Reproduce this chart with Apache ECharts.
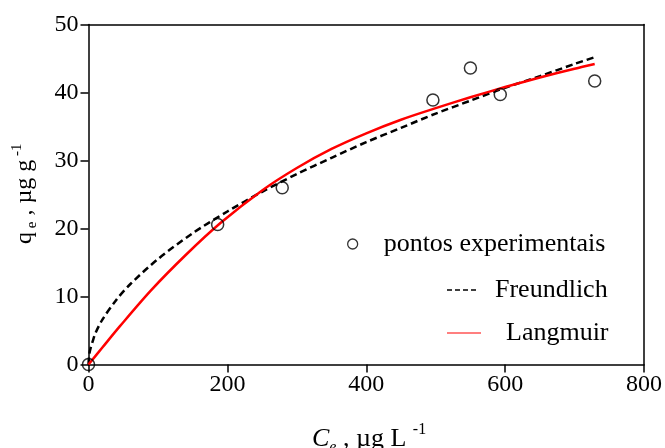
<!DOCTYPE html>
<html>
<head>
<meta charset="utf-8">
<script src="https://cdn.jsdelivr.net/npm/echarts@6/dist/echarts.min.js"></script>
<style>html,body{margin:0;padding:0;background:#fff}#c{width:665px;height:448px}</style>
</head>
<body>
<div id="c"></div>
<script>
// Experimental points (Ce, qe)
const expC = [0, 186, 279, 496, 550, 593, 729];
const expQ = [0, 20.6, 26.0, 38.9, 43.6, 39.7, 41.7];
// Freundlich fitted curve
const freC = [0, 1, 3, 6, 10, 20, 40, 60, 100, 150, 200, 250, 300, 350, 400, 450, 500, 550, 600, 650, 700, 729];
const freQ = [0, 1.4, 2.4, 3.4, 4.6, 6.6, 9.5, 11.8, 15.5, 19.3, 22.5, 25.4, 28.0, 30.4, 32.7, 34.8, 36.9, 38.8, 40.7, 42.4, 44.2, 45.2];
// Langmuir fitted curve
const lanC = [0, 20, 45, 90, 140, 190, 250, 300, 350, 400, 450, 500, 550, 600, 650, 700, 729];
const lanQ = [0, 2.5, 5.6, 10.9, 16.1, 20.8, 25.6, 28.9, 31.7, 34.0, 36.0, 37.7, 39.3, 40.8, 42.2, 43.5, 44.2];
// Axis ticks
const xTicks = [0, 200, 400, 600, 800];
const yTicks = [0, 10, 20, 30, 40, 50];
const names = ['pontos experimentais', 'Freundlich', 'Langmuir'];

const FONT = 'Liberation Serif';
const pairs = (a, b) => a.map((v, i) => [v, b[i]]);

const chart = echarts.init(document.getElementById('c'), null, {renderer: 'canvas'});
const axisBase = {
  axisLine: {show: true, onZero: false, lineStyle: {color: '#000', width: 1.5}},
  splitLine: {show: false}
};
const legendText = {fontFamily: FONT, fontSize: 26, color: '#000'};
chart.setOption({
  animation: false,
  backgroundColor: '#fff',
  grid: {left: 88.5, right: 20, top: 24.5, bottom: 83.5, containLabel: false},
  xAxis: [
    Object.assign({}, axisBase, {
      type: 'value', min: xTicks[0], max: xTicks[xTicks.length - 1], interval: xTicks[1] - xTicks[0],
      axisTick: {show: true, length: 8, inside: false, lineStyle: {color: '#000', width: 1.5}},
      axisLabel: {color: '#000', fontFamily: FONT, fontSize: 24, margin: 8}
    }),
    Object.assign({}, axisBase, {
      type: 'value', position: 'top', min: 0, max: 800,
      axisTick: {show: false}, axisLabel: {show: false}
    })
  ],
  yAxis: [
    Object.assign({}, axisBase, {
      type: 'value', min: yTicks[0], max: yTicks[yTicks.length - 1], interval: yTicks[1] - yTicks[0],
      axisTick: {show: true, length: 8, inside: false, lineStyle: {color: '#000', width: 1.5}},
      axisLabel: {color: '#000', fontFamily: FONT, fontSize: 24, margin: 10}
    }),
    Object.assign({}, axisBase, {
      type: 'value', position: 'right', min: 0, max: 50,
      axisTick: {show: false}, axisLabel: {show: false}
    })
  ],
  legend: [
    {data: [{name: names[0], icon: 'circle'}], left: 347, top: 231, padding: 0,
     itemWidth: 10, itemHeight: 10, textStyle: Object.assign({padding: [0, 0, 0, 21]}, legendText),
     itemStyle: {color: 'rgba(255,255,255,0)', borderColor: '#000', borderWidth: 1.3}},
    {data: [{name: names[1], icon: 'path://M0,0H5V1H0Z M8,0H13V1H8Z M16,0H21V1H16Z M24,0H29V1H24Z'}],
     left: 447, top: 277, padding: 0, itemWidth: 29, itemHeight: 1.4, symbolKeepAspect: false,
     textStyle: Object.assign({padding: [0, 0, 0, 14]}, legendText),
     itemStyle: {color: '#000', borderWidth: 0}},
    {data: [{name: names[2], icon: 'rect'}], left: 447, top: 320, padding: 0,
     itemWidth: 34, itemHeight: 1.2, symbolKeepAspect: false,
     textStyle: Object.assign({padding: [0, 0, 0, 20]}, legendText),
     itemStyle: {color: '#ff0000', borderWidth: 0}}
  ],
  series: [
    {
      name: names[1], type: 'line', data: pairs(freC, freQ), smooth: 0.3, showSymbol: false, symbol: 'none',
      lineStyle: {color: '#000', width: 2.5, type: [7, 4]}, itemStyle: {color: '#000'}, z: 3
    },
    {
      name: names[2], type: 'line', data: pairs(lanC, lanQ), smooth: 0.3, showSymbol: false, symbol: 'none',
      lineStyle: {color: '#ff0000', width: 2.5}, itemStyle: {color: '#ff0000'}, z: 4
    },
    {
      name: names[0], type: 'scatter', data: pairs(expC, expQ), symbol: 'circle', symbolSize: 12, clip: false,
      itemStyle: {color: 'rgba(255,255,255,0)', borderColor: '#000', borderWidth: 1.5}, z: 5
    }
  ],
  graphic: [
    {
      type: 'text', left: 312, top: 422, silent: true,
      style: {
        text: '{i|C}{s|e}{n| , µg L }{p|-1}',
        rich: {
          i: {fontFamily: FONT, fontSize: 26, fontStyle: 'italic', lineHeight: 34, fill: '#000'},
          s: {fontFamily: FONT, fontSize: 16, fontStyle: 'italic', verticalAlign: 'bottom', lineHeight: 16, fill: '#000'},
          n: {fontFamily: FONT, fontSize: 26, lineHeight: 34, fill: '#000'},
          p: {fontFamily: FONT, fontSize: 16, verticalAlign: 'top', lineHeight: 16, fill: '#000'}
        }
      }
    },
    {
      type: 'text', x: 10, y: 244, rotation: Math.PI / 2, silent: true,
      style: {
        text: '{n|q}{s| e}{n| , µg g}{p| -1}',
        rich: {
          n: {fontFamily: FONT, fontSize: 24, lineHeight: 30, fill: '#000'},
          s: {fontFamily: FONT, fontSize: 15, verticalAlign: 'bottom', lineHeight: 15, fill: '#000'},
          p: {fontFamily: FONT, fontSize: 15, verticalAlign: 'top', lineHeight: 15, fill: '#000'}
        }
      }
    }
  ]
});
</script>
</body>
</html>
